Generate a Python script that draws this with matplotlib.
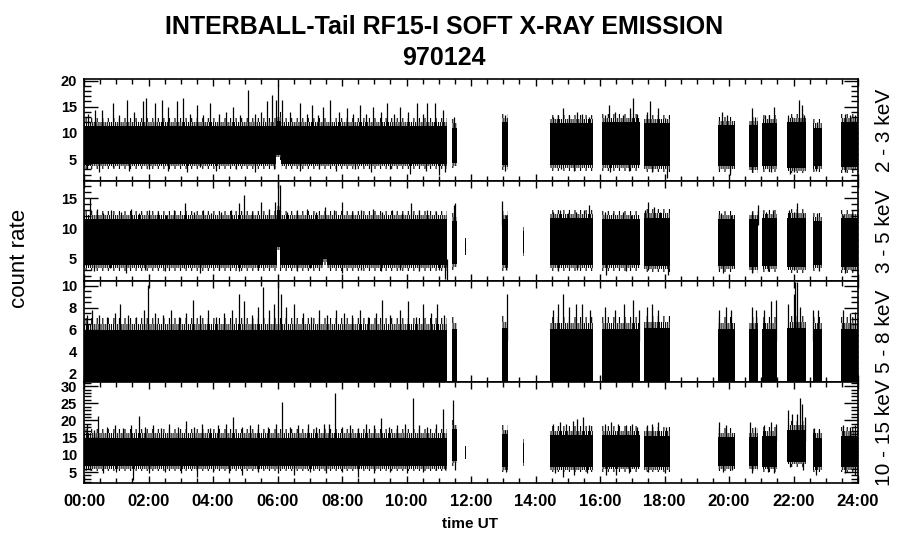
import matplotlib
matplotlib.use('Agg')
import matplotlib.pyplot as plt
from matplotlib.ticker import MultipleLocator, FuncFormatter

plt.rcParams['font.family'] = ['Liberation Sans', 'DejaVu Sans']
plt.rcParams['hatch.linewidth'] = 0.8

# ---- data (hours UT, count rate) ----
# data blocks: start, end, low edge, high edge of the dense band
p1_t0 = [0.00, 5.96, 6.10, 11.41, 12.97, 14.45, 16.05, 17.36, 19.66, 20.62, 21.03, 21.79, 22.59, 23.46]
p1_t1 = [5.96, 6.10, 11.27, 11.56, 13.16, 15.79, 17.24, 18.17, 20.18, 20.89, 21.50, 22.39, 22.87, 24.00]
p1_lo = [4.1, 5.8, 4.1, 4.2, 3.9, 3.8, 3.8, 3.6, 3.6, 3.4, 3.6, 3.3, 3.6, 3.4]
p1_hi = [11.3, 12.3, 11.3, 11.0, 12.0, 11.8, 12.0, 11.8, 11.5, 11.5, 11.8, 12.0, 11.0, 12.0]
p1_up_t = [0.12, 0.34, 0.55, 0.89, 1.10, 1.34, 1.55, 1.84, 1.92, 2.20, 2.41, 2.62, 2.87, 3.08, 3.30,
           3.50, 3.70, 3.91, 4.20, 4.40, 4.63, 4.85, 5.07, 5.30, 5.50, 5.66, 5.82, 5.95, 6.03, 6.13,
           6.40, 6.70, 6.90, 7.06, 7.25, 7.42, 7.63, 7.90, 8.15, 8.35, 8.56, 8.75, 8.97, 9.20, 9.39,
           9.60, 9.80, 10.05, 10.32, 10.50, 10.63, 10.88, 11.14, 11.48,
           13.05, 14.55, 14.70, 14.86, 15.05, 15.28, 15.43, 15.65, 16.15, 16.28, 16.46, 16.70, 16.93,
           17.03, 17.15, 17.45, 17.55, 17.81, 18.01, 19.77, 19.95, 20.71, 20.80, 21.12, 21.25, 21.38,
           21.84, 21.95, 22.18, 22.25, 22.32, 22.72, 23.60, 23.75, 23.90]
p1_up_v = [13.7, 14.4, 14.4, 15.7, 13.4, 16.3, 14.0, 16.0, 16.6, 15.7, 16.3, 15.0, 16.0, 16.6, 13.7,
           15.3, 13.4, 15.7, 13.7, 14.0, 15.0, 13.4, 18.2, 13.7, 14.0, 16.0, 17.3, 16.3, 19.2, 16.3,
           14.0, 15.7, 13.7, 15.3, 13.4, 15.0, 16.3, 14.0, 14.7, 13.7, 15.3, 13.7, 15.0, 14.0, 15.7,
           13.7, 15.0, 14.0, 15.7, 13.7, 15.7, 15.7, 14.4, 13.1,
           13.5, 13.1, 13.5, 14.7, 13.4, 14.0, 13.7, 13.1, 13.5, 15.3, 14.0, 13.5, 14.7,
           16.6, 13.7, 14.0, 16.0, 14.7, 12.8, 14.0, 13.5, 14.7, 13.1, 13.4, 13.5, 15.0,
           13.4, 13.1, 16.3, 15.3, 13.5, 12.1, 13.7, 13.4, 13.5]
p1_dn_t = [0.10, 0.45, 0.90, 1.40, 2.00, 2.60, 3.20, 3.60, 4.10, 4.70, 5.30, 5.90, 6.70, 7.30, 7.80,
           8.40, 8.90, 9.50, 10.10, 10.60, 11.00, 11.20,
           13.05, 14.80, 15.20, 16.30, 16.90, 17.60, 18.07, 20.03, 20.70, 21.30, 21.90, 22.00, 22.70, 23.60]
p1_dn_v = [3.1, 2.5, 3.5, 2.8, 3.1, 2.8, 2.5, 3.5, 2.8, 3.1, 2.5, 3.1, 2.8, 3.1, 2.8,
           3.1, 2.5, 3.1, 2.2, 2.8, 1.9, 2.5,
           2.8, 3.1, 2.8, 2.5, 2.8, 2.5, 1.3, 1.9, 2.5, 2.5, 2.2, 2.5, 2.8, 2.5]

p2_t0 = [0.00, 5.97, 6.09, 7.40, 7.55, 11.41, 11.82, 12.97, 13.61, 14.45, 16.05, 17.36, 19.66, 20.62, 21.03, 21.79, 22.59, 23.46]
p2_t1 = [5.97, 6.09, 7.40, 7.55, 11.27, 11.56, 11.85, 13.16, 13.64, 15.79, 17.24, 18.17, 20.18, 20.89, 21.50, 22.39, 22.87, 24.00]
p2_lo = [3.9, 6.8, 3.9, 4.9, 3.9, 4.0, 6.1, 3.9, 5.9, 3.8, 3.8, 3.7, 3.7, 3.6, 3.7, 3.6, 3.8, 3.6]
p2_hi = [11.5, 13.0, 11.5, 11.5, 11.5, 11.2, 7.7, 11.5, 9.5, 11.7, 11.5, 11.8, 11.5, 11.5, 11.7, 11.8, 11.2, 11.7]
p2_up_t = [0.19, 0.40, 0.60, 0.85, 1.15, 1.45, 1.70, 2.00, 2.30, 2.55, 2.80, 3.13, 3.40, 3.70, 3.95,
           4.25, 4.55, 4.82, 4.97, 5.20, 5.50, 5.75, 5.92, 6.03, 6.08, 6.30, 6.60, 6.90, 7.20, 7.47,
           7.75, 8.00, 8.30, 8.60, 8.95, 9.25, 9.55, 9.85, 10.15, 10.40, 10.65, 10.90, 11.48,
           11.50, 12.97, 13.08, 14.55, 14.75, 15.00, 15.25, 15.50, 15.67, 16.15, 16.40, 16.70, 16.95,
           17.40, 17.50, 17.68, 17.85, 19.75, 20.05, 20.70, 20.89, 21.15, 21.35, 21.86, 22.00, 22.12,
           22.30, 22.72, 23.55, 23.80]
p2_up_v = [15.0, 13.3, 12.5, 13.0, 12.8, 13.3, 12.5, 13.0, 12.8, 12.2, 13.0, 14.2, 12.8, 13.0, 12.5,
           12.8, 13.0, 14.2, 15.6, 12.8, 14.4, 13.3, 14.4, 17.9, 17.2, 12.8, 13.0, 13.3, 12.8, 13.6,
           13.0, 14.4, 12.8, 13.0, 13.3, 12.8, 13.0, 12.5, 14.2, 13.0, 13.0, 12.8, 13.9,
           14.2, 14.5, 12.2, 12.8, 13.0, 12.5, 12.8, 13.0, 13.9, 12.8, 12.5, 12.8, 12.2,
           13.0, 14.4, 13.6, 12.8, 12.5, 12.2, 12.8, 13.9, 12.8, 13.0, 13.0, 12.8, 14.2,
           12.5, 12.5, 12.2, 12.5]
p2_dn_t = [0.30, 0.80, 1.30, 1.90, 2.50, 3.10, 3.60, 4.20, 4.80, 5.40, 6.60, 7.00, 8.00, 8.60, 9.20,
           9.80, 10.40, 11.00, 11.19, 11.26,
           13.10, 14.70, 15.30, 16.20, 16.80, 17.50, 18.10, 19.80, 20.70, 21.20, 22.00, 22.80, 23.60]
p2_dn_v = [2.8, 3.3, 2.5, 3.0, 2.8, 3.3, 2.5, 3.0, 2.8, 3.0, 2.8, 3.3, 2.5, 3.0, 2.8,
           3.0, 2.8, 3.0, 1.6, 1.3,
           3.0, 2.8, 3.0, 2.2, 2.8, 3.0, 2.2, 2.5, 2.5, 2.8, 3.0, 2.8, 2.5]

p3_t0 = [0.00, 11.41, 12.97, 14.45, 16.05, 17.36, 19.66, 20.62, 21.03, 21.79, 22.59, 23.46]
p3_t1 = [11.27, 11.56, 13.16, 15.79, 17.24, 18.17, 20.18, 20.89, 21.50, 22.39, 22.87, 24.00]
p3_lo = [1.27, 1.27, 1.27, 1.27, 1.27, 1.27, 1.27, 1.27, 1.27, 1.27, 1.27, 1.27]
p3_hi = [6.0, 6.1, 6.2, 6.1, 6.1, 6.2, 6.1, 6.1, 6.1, 6.2, 6.1, 6.1]
p3_up_t = [0.10, 0.25, 0.45, 0.70, 0.95, 1.12, 1.35, 1.60, 1.85, 1.99, 2.20, 2.45, 2.70, 2.95, 3.15,
           3.38, 3.60, 3.85, 4.10, 4.35, 4.60, 4.82, 4.95, 5.20, 5.40, 5.55, 5.75, 5.90, 6.03, 6.10,
           6.25, 6.52, 6.80, 7.05, 7.30, 7.55, 7.80, 8.05, 8.30, 8.55, 8.80, 9.05, 9.25, 9.50, 9.80,
           10.05, 10.30, 10.50, 10.75, 10.95, 11.15,
           13.11, 14.55, 14.70, 14.86, 15.05, 15.25, 15.45, 15.70, 16.15, 16.45, 16.75, 17.03, 17.20,
           17.45, 17.60, 17.80, 19.70, 19.90, 20.05, 20.70, 20.85, 21.10, 21.30, 21.45, 21.84, 22.00,
           22.05, 22.10, 22.20, 22.62, 22.75, 23.55, 23.75, 23.90]
p3_up_v = [7.4, 7.8, 7.4, 7.2, 7.5, 8.4, 7.4, 7.2, 7.8, 10.1, 7.5, 7.4, 7.8, 7.2, 7.5,
           8.7, 7.4, 7.8, 7.2, 7.5, 7.8, 9.3, 8.6, 7.4, 8.1, 9.9, 7.8, 8.4, 10.4, 9.3,
           8.1, 8.4, 7.5, 7.2, 7.8, 7.4, 7.8, 7.5, 7.4, 7.8, 7.2, 7.5, 8.7, 7.4, 7.8,
           8.6, 7.2, 8.4, 7.5, 8.4, 7.4,
           9.3, 7.8, 8.4, 9.3, 8.1, 8.4, 8.4, 7.8, 8.1, 7.8, 8.4, 8.7, 7.8,
           8.1, 8.4, 7.8, 7.8, 8.1, 7.8, 8.1, 7.8, 7.8, 8.6, 8.7, 8.4, 9.3,
           10.4, 10.4, 8.1, 7.8, 7.8, 7.8, 7.5, 7.6]

p4_t0 = [0.00, 11.41, 11.82, 12.97, 13.61, 14.45, 16.05, 17.36, 19.66, 20.62, 21.03, 21.79, 22.59, 23.46]
p4_t1 = [11.27, 11.56, 11.85, 13.16, 13.64, 15.79, 17.24, 18.17, 20.18, 20.89, 21.50, 22.39, 22.87, 24.00]
p4_lo = [6.8, 8.3, 9.7, 6.5, 7.6, 6.5, 6.6, 6.5, 6.8, 6.8, 6.6, 8.0, 6.5, 6.5]
p4_hi = [15.0, 17.5, 11.2, 16.0, 13.4, 15.7, 15.7, 15.5, 15.2, 15.2, 15.5, 17.3, 15.0, 15.5]
p4_up_t = [0.10, 0.30, 0.44, 0.70, 0.95, 1.20, 1.45, 1.69, 1.90, 2.15, 2.40, 2.65, 2.90, 3.15, 3.40,
           3.65, 3.90, 4.15, 4.40, 4.63, 4.90, 5.15, 5.40, 5.70, 5.95, 6.13, 6.40, 6.65, 6.95, 7.20,
           7.45, 7.60, 7.78, 8.00, 8.25, 8.50, 8.75, 9.00, 9.20, 9.45, 9.70, 9.95, 10.21, 10.40, 10.65,
           10.90, 11.14, 11.45,
           13.05, 14.55, 14.75, 14.95, 15.15, 15.30, 15.48, 15.65, 16.15, 16.35, 16.55, 16.80, 17.00,
           17.15, 17.45, 17.60, 17.80, 18.05, 19.70, 19.90, 20.65, 20.80, 21.10, 21.30, 21.45, 21.84,
           21.95, 22.10, 22.20, 22.25, 22.35, 22.65, 22.80, 23.55, 23.75, 23.90]
p4_up_v = [19.1, 17.2, 21.3, 18.2, 18.7, 17.7, 18.7, 21.3, 18.2, 18.7, 17.7, 19.1, 18.2, 19.9, 18.2,
           19.1, 17.7, 18.7, 19.1, 21.1, 18.2, 18.7, 19.1, 18.2, 19.1, 25.4, 18.2, 18.7, 19.1, 18.2,
           19.1, 19.1, 27.9, 18.2, 18.7, 17.7, 19.1, 18.7, 20.6, 18.2, 18.7, 19.1, 26.4, 18.7, 18.2,
           19.1, 23.2, 25.9,
           17.2, 19.1, 19.6, 19.1, 19.9, 20.3, 21.1, 18.7, 19.1, 19.6, 19.1, 18.7, 19.1,
           18.2, 18.7, 19.1, 19.6, 18.2, 19.6, 18.7, 19.6, 18.2, 18.7, 19.6, 19.1, 23.0,
           22.0, 22.0, 26.4, 24.9, 21.1, 17.7, 17.2, 18.7, 18.2, 18.7]
p4_dn_t = [0.20, 0.60, 1.00, 1.53, 2.00, 2.50, 3.00, 3.50, 4.00, 4.50, 4.90, 5.40, 6.00, 6.50, 7.00,
           7.50, 8.00, 8.50, 9.00, 9.50, 10.00, 10.50, 10.90, 11.20,
           11.50, 13.10, 14.60, 14.86, 15.20, 15.60, 16.20, 16.50, 16.90, 17.50, 18.00, 19.80, 20.10,
           20.70, 21.20, 21.40, 21.90, 22.30, 22.70, 23.60, 23.90]
p4_dn_v = [5.6, 4.6, 5.1, 2.6, 4.6, 5.1, 4.6, 3.6, 5.1, 4.6, 4.1, 5.1, 4.6, 4.1, 5.1,
           4.6, 5.1, 3.6, 4.6, 5.1, 4.6, 5.1, 5.6, 5.6,
           5.6, 5.1, 4.6, 3.6, 4.1, 4.6, 4.1, 4.1, 4.6, 5.1, 4.6, 5.1, 5.6,
           4.6, 5.1, 4.6, 6.5, 5.6, 4.1, 4.6, 4.1]

# noise fringe above / below the dense band (count-rate units)
fringe_up = [1.6, 1.4, 1.1, 2.6]
fringe_dn = [1.0, 1.0, 0.0, 1.6]

band_labels = ['2 - 3 keV', '3 - 5 keV', '5 - 8 keV', '10 - 15 keV']
y_limits = [(0.8, 20.3), (1.2, 17.9), (1.27, 10.45), (1.8, 31.2)]
y_major = [5, 5, 2, 5]
y_minor = [1, 1, 0.5, 1]

panels = [
    (p1_t0, p1_t1, p1_lo, p1_hi, p1_up_t, p1_up_v, p1_dn_t, p1_dn_v),
    (p2_t0, p2_t1, p2_lo, p2_hi, p2_up_t, p2_up_v, p2_dn_t, p2_dn_v),
    (p3_t0, p3_t1, p3_lo, p3_hi, p3_up_t, p3_up_v, [], []),
    (p4_t0, p4_t1, p4_lo, p4_hi, p4_up_t, p4_up_v, p4_dn_t, p4_dn_v),
]

# panel edges in pixels (top, bottom)
W, H = 900, 548
tops = [79, 181, 281, 382]
bots = [181, 281, 382, 483]
left, right = 84, 858

fig = plt.figure(figsize=(W / 100, H / 100), dpi=100)
ytick_font = dict(family=['Liberation Sans', 'DejaVu Sans'], weight='bold', size=10.5)
xtick_font = dict(family=['Liberation Sans', 'DejaVu Sans'], weight='bold', size=12)

for i, (t0, t1, lo, hi, ut, uv, dt, dv) in enumerate(panels):
    ax = fig.add_axes([left / W, 1 - bots[i] / H, (right - left) / W, (bots[i] - tops[i]) / H])
    widths = [b - a for a, b in zip(t0, t1)]
    heights = [h - l for l, h in zip(lo, hi)]
    ax.bar(t0, heights, width=widths, bottom=lo, align='edge', color='black', linewidth=0)

    # ragged noise fringe: dense near the band, sparse further out
    fu = fringe_up[i]
    ax.bar(t0, [fu * 0.5] * len(t0), width=widths, bottom=hi, align='edge',
           fill=False, hatch='||||||||', edgecolor='black', linewidth=0)
    ax.bar(t0, [fu * 0.5] * len(t0), width=widths, bottom=[h + fu * 0.5 for h in hi],
           align='edge', fill=False, hatch='|||', edgecolor='black', linewidth=0)
    fd = fringe_dn[i]
    if fd > 0:
        ax.bar(t0, [fd * 0.5] * len(t0), width=widths, bottom=[l - fd * 0.5 for l in lo],
               align='edge', fill=False, hatch='||||||||', edgecolor='black', linewidth=0)
        ax.bar(t0, [fd * 0.5] * len(t0), width=widths, bottom=[l - fd for l in lo],
               align='edge', fill=False, hatch='|||', edgecolor='black', linewidth=0)

    base_up = [hi[0] - 1] * len(ut)
    ax.vlines(ut, base_up, uv, color='black', linewidth=0.9)
    if dt:
        base_dn = [lo[0] + 1] * len(dt)
        ax.vlines(dt, base_dn, dv, color='black', linewidth=0.9)

    ax.set_xlim(0, 24)
    ax.set_ylim(*y_limits[i])
    ax.xaxis.set_major_locator(MultipleLocator(2))
    ax.xaxis.set_minor_locator(MultipleLocator(0.5))
    ax.yaxis.set_major_locator(MultipleLocator(y_major[i]))
    ax.yaxis.set_minor_locator(MultipleLocator(y_minor[i]))
    ax.tick_params(axis='x', which='both', direction='in', top=True, bottom=True, width=1)
    ax.tick_params(axis='x', which='major', length=5, pad=8)
    ax.tick_params(axis='x', which='minor', length=3.5)
    ax.tick_params(axis='y', which='both', direction='in', left=True, right=True, width=1)
    ax.tick_params(axis='y', which='major', length=10, pad=5)
    ax.tick_params(axis='y', which='minor', length=5)
    for s in ax.spines.values():
        s.set_linewidth(1.2)

    ax.yaxis.set_major_formatter(FuncFormatter(lambda v, p: f'{v:g}'))
    for lab in ax.get_yticklabels():
        lab.set_fontproperties(ytick_font)
    if i == 3:
        ax.xaxis.set_major_formatter(FuncFormatter(lambda v, p: f'{int(round(v)):02d}:00'))
        for lab in ax.get_xticklabels():
            lab.set_fontproperties(xtick_font)
    else:
        ax.set_xticklabels([])

    fig.text(885 / W, 1 - (tops[i] + bots[i]) / 2 / H, band_labels[i], rotation=90,
             ha='center', va='center', fontsize=15)

fig.text(444 / W, 1 - 27 / H, 'INTERBALL-Tail RF15-I SOFT X-RAY EMISSION',
         ha='center', va='center', fontsize=18, fontweight='bold')
fig.text(444 / W, 1 - 58 / H, '970124', ha='center', va='center', fontsize=18, fontweight='bold')
fig.text(20 / W, 1 - 258 / H, 'count rate', rotation=90, ha='center', va='center', fontsize=16)
fig.text(470 / W, 1 - 524 / H, 'time UT', ha='center', va='center', fontsize=11, fontweight='bold')

fig.savefig('out.png', dpi=100)
